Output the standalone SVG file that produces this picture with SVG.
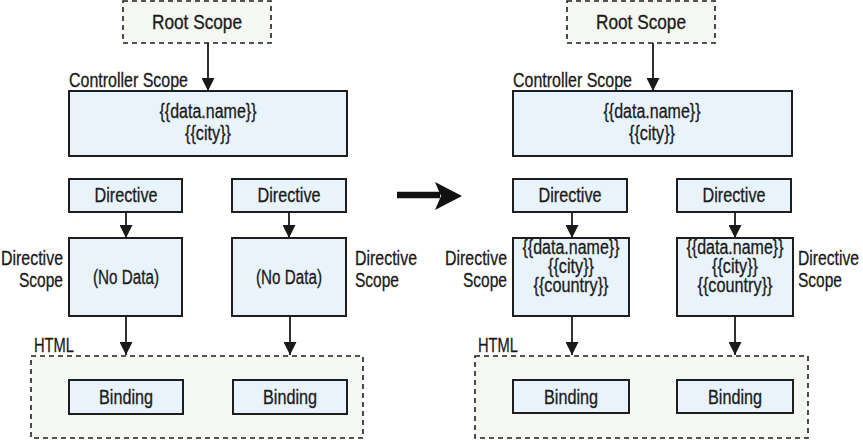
<svg xmlns="http://www.w3.org/2000/svg" width="863" height="440" viewBox="0 0 863 440">
<style>
text{font-family:"Liberation Sans",Arial,sans-serif;font-size:20px;fill:#1a1a1a;stroke:#1a1a1a;stroke-width:0.3}
.c{text-anchor:middle}
.r{text-anchor:end}
.box{fill:#e9f3fb;stroke:#1e1e1e;stroke-width:2}
.dash{fill:#f4f7f2;stroke:#1e1e1e;stroke-width:1.6;stroke-dasharray:5,4}
.conn line{stroke:#1a1a1a;stroke-width:1.8;marker-end:url(#ah)}
</style>
<defs>
<marker id="ah" markerUnits="userSpaceOnUse" viewBox="0 0 13 13" markerWidth="13" markerHeight="13" refX="13" refY="6.5" orient="auto">
<path d="M0,0 L13,6.5 L0,13 Z" fill="#1a1a1a"/>
</marker>
</defs>
<rect width="863" height="440" fill="#ffffff"/>

<!-- Left panel -->
<g id="root-left"><rect class="dash" x="123" y="1" width="148" height="42"/><text class="c" x="197" y="29" style="font-size:21px" textLength="90" lengthAdjust="spacingAndGlyphs">Root Scope</text></g>
<g id="controller-left"><text x="69" y="87" textLength="119" lengthAdjust="spacingAndGlyphs">Controller Scope</text><rect class="box" x="69" y="91" width="278" height="65"/><text class="c" x="208" y="118" textLength="97" lengthAdjust="spacingAndGlyphs">{{data.name}}</text><text class="c" x="208" y="140" textLength="46" lengthAdjust="spacingAndGlyphs">{{city}}</text></g>
<g id="directive-left-1"><rect class="box" x="69" y="179" width="113" height="33"/><text class="c" x="126" y="202" textLength="63" lengthAdjust="spacingAndGlyphs">Directive</text></g>
<g id="directive-left-2"><rect class="box" x="232" y="179" width="114" height="33"/><text class="c" x="289" y="202" textLength="63" lengthAdjust="spacingAndGlyphs">Directive</text></g>
<g id="scope-left-1"><rect class="box" x="69" y="238" width="113" height="78"/><text class="c" x="126" y="284" textLength="66" lengthAdjust="spacingAndGlyphs">(No Data)</text><text class="r" x="63" y="265" textLength="62" lengthAdjust="spacingAndGlyphs">Directive</text><text class="r" x="63" y="287" textLength="44" lengthAdjust="spacingAndGlyphs">Scope</text></g>
<g id="scope-left-2"><rect class="box" x="232" y="238" width="114" height="78"/><text class="c" x="289" y="284" textLength="66" lengthAdjust="spacingAndGlyphs">(No Data)</text><text x="355" y="265" textLength="62" lengthAdjust="spacingAndGlyphs">Directive</text><text x="355" y="287" textLength="44" lengthAdjust="spacingAndGlyphs">Scope</text></g>
<g id="html-left"><text x="34" y="352" textLength="40" lengthAdjust="spacingAndGlyphs">HTML</text><rect class="dash" x="31" y="356" width="332" height="82"/></g>
<g id="binding-left-1"><rect class="box" x="69" y="380" width="114" height="34"/><text class="c" x="126" y="404" textLength="54" lengthAdjust="spacingAndGlyphs">Binding</text></g>
<g id="binding-left-2"><rect class="box" x="233" y="380" width="114" height="34"/><text class="c" x="290" y="404" textLength="54" lengthAdjust="spacingAndGlyphs">Binding</text></g>

<!-- Right panel -->
<g id="root-right"><rect class="dash" x="567" y="1" width="148" height="42"/><text class="c" x="641" y="29" style="font-size:21px" textLength="90" lengthAdjust="spacingAndGlyphs">Root Scope</text></g>
<g id="controller-right"><text x="513" y="87" textLength="119" lengthAdjust="spacingAndGlyphs">Controller Scope</text><rect class="box" x="513" y="91" width="279" height="65"/><text class="c" x="652" y="118" textLength="97" lengthAdjust="spacingAndGlyphs">{{data.name}}</text><text class="c" x="652" y="140" textLength="46" lengthAdjust="spacingAndGlyphs">{{city}}</text></g>
<g id="directive-right-1"><rect class="box" x="513" y="179" width="114" height="33"/><text class="c" x="570" y="202" textLength="63" lengthAdjust="spacingAndGlyphs">Directive</text></g>
<g id="directive-right-2"><rect class="box" x="677" y="179" width="114" height="33"/><text class="c" x="734" y="202" textLength="63" lengthAdjust="spacingAndGlyphs">Directive</text></g>
<g id="scope-right-1"><rect class="box" x="513" y="238" width="116" height="78"/><text class="c" x="571" y="254" textLength="97" lengthAdjust="spacingAndGlyphs">{{data.name}}</text><text class="c" x="571" y="273" textLength="46" lengthAdjust="spacingAndGlyphs">{{city}}</text><text class="c" x="571" y="292" textLength="75" lengthAdjust="spacingAndGlyphs">{{country}}</text><text class="r" x="507" y="265" textLength="62" lengthAdjust="spacingAndGlyphs">Directive</text><text class="r" x="507" y="287" textLength="44" lengthAdjust="spacingAndGlyphs">Scope</text></g>
<g id="scope-right-2"><rect class="box" x="677" y="238" width="116" height="78"/><text class="c" x="735" y="254" textLength="97" lengthAdjust="spacingAndGlyphs">{{data.name}}</text><text class="c" x="735" y="273" textLength="46" lengthAdjust="spacingAndGlyphs">{{city}}</text><text class="c" x="735" y="292" textLength="75" lengthAdjust="spacingAndGlyphs">{{country}}</text><text x="798" y="265" textLength="61" lengthAdjust="spacingAndGlyphs">Directive</text><text x="798" y="287" textLength="44" lengthAdjust="spacingAndGlyphs">Scope</text></g>
<g id="html-right"><text x="478" y="352" textLength="40" lengthAdjust="spacingAndGlyphs">HTML</text><rect class="dash" x="475" y="356" width="333" height="82"/></g>
<g id="binding-right-1"><rect class="box" x="513" y="380" width="116" height="33"/><text class="c" x="571" y="404" textLength="54" lengthAdjust="spacingAndGlyphs">Binding</text></g>
<g id="binding-right-2"><rect class="box" x="677" y="380" width="116" height="33"/><text class="c" x="735" y="404" textLength="54" lengthAdjust="spacingAndGlyphs">Binding</text></g>

<!-- Connectors -->
<g id="connectors" class="conn">
<line x1="208" y1="43" x2="208" y2="91"/>
<line x1="126" y1="212" x2="126" y2="238"/>
<line x1="289" y1="212" x2="289" y2="238"/>
<line x1="126" y1="316" x2="126" y2="355"/>
<line x1="290" y1="316" x2="290" y2="355"/>
<line x1="653" y1="43" x2="653" y2="91"/>
<line x1="572" y1="212" x2="572" y2="238"/>
<line x1="735" y1="212" x2="735" y2="238"/>
<line x1="572" y1="316" x2="572" y2="355"/>
<line x1="735" y1="316" x2="735" y2="355"/>
</g>
<g id="transition-arrow">
<line x1="397" y1="195" x2="440" y2="195" stroke="#111" stroke-width="6.5"/>
<path d="M435,182 L462,196 L435,210 L441,196 Z" fill="#111"/>
</g>
</svg>
